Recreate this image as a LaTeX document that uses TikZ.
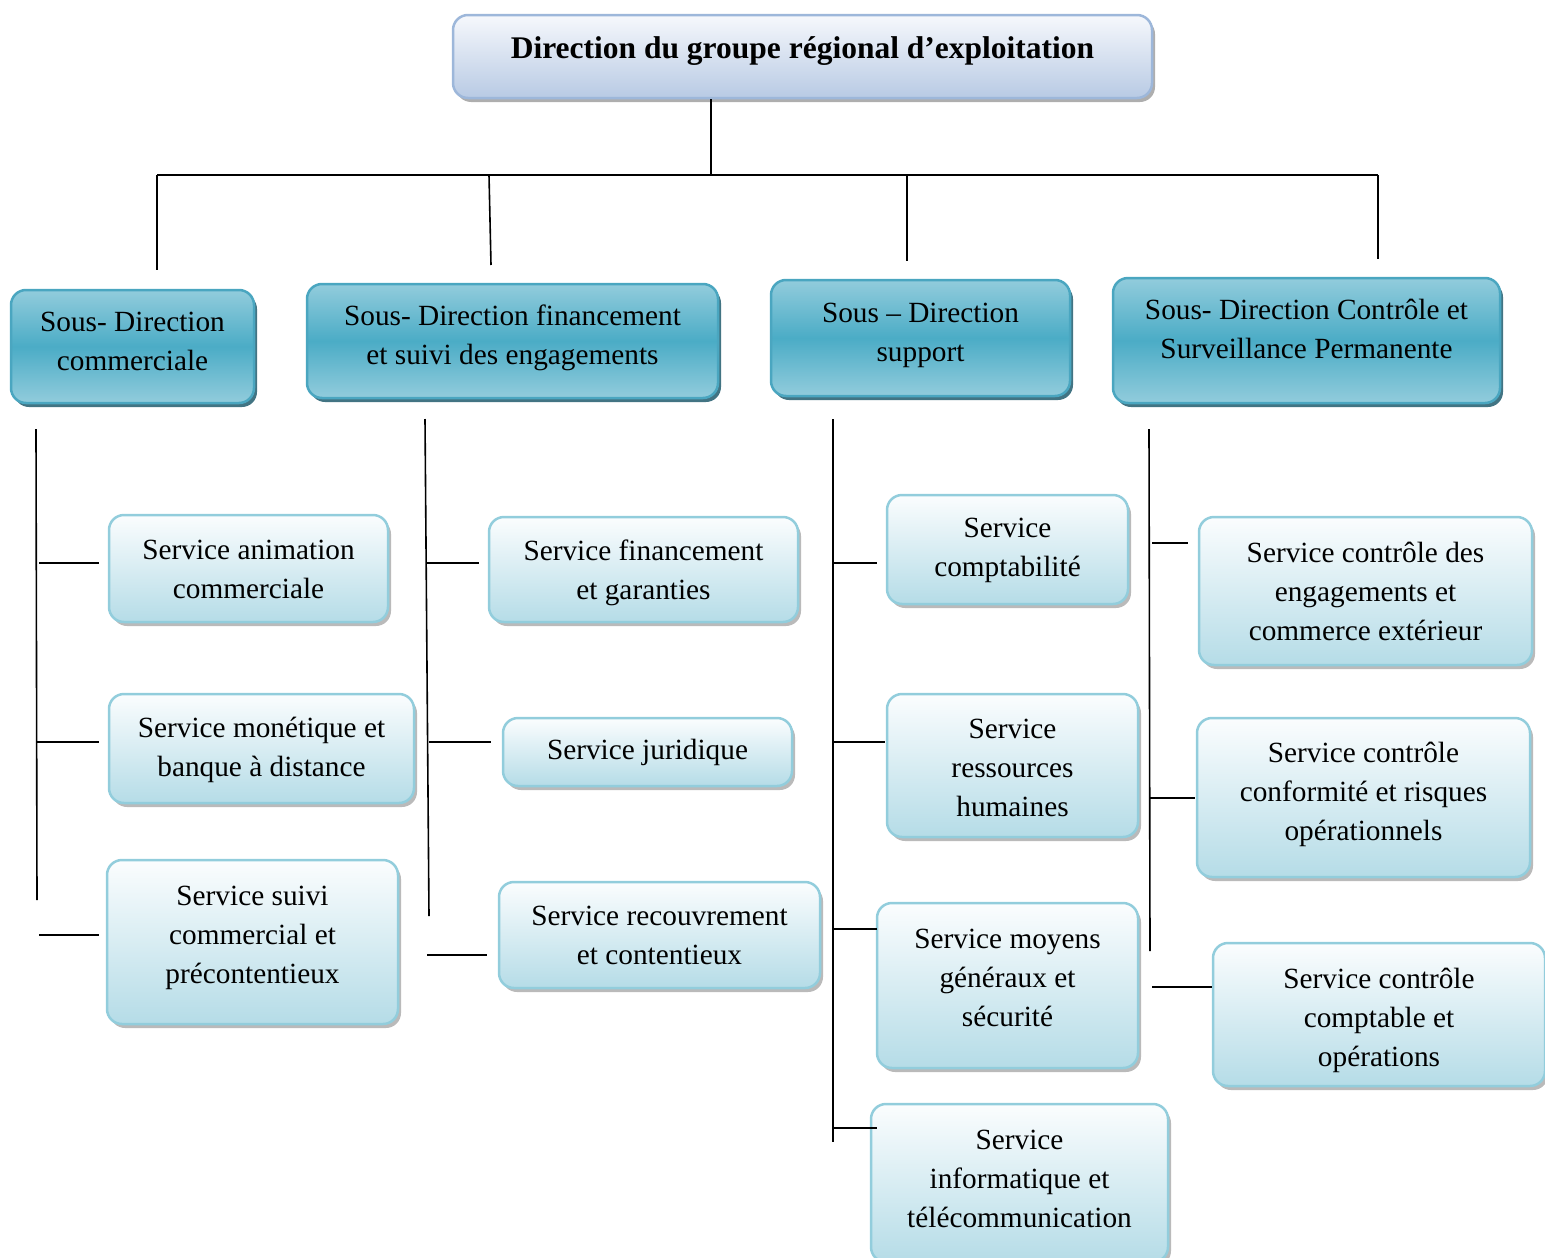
\documentclass[tikz,border=0pt]{standalone}
\usepackage{fontspec}
\setmainfont{Liberation Serif}
\usetikzlibrary{shadows}

\definecolor{topBorder}{HTML}{9DB7DA}
\definecolor{topTop}{HTML}{F6F8FC}
\definecolor{topBot}{HTML}{B8CAE4}
\definecolor{subBorder}{HTML}{4AA6C0}
\definecolor{subLight}{HTML}{92CCDC}
\definecolor{subDark}{HTML}{4BACC6}
\definecolor{subShadow}{HTML}{2E6576}
\definecolor{svcBorder}{HTML}{92CDDC}
\definecolor{svcTop}{HTML}{FBFDFE}
\definecolor{svcBot}{HTML}{B5DCE7}

\begin{document}
\begin{tikzpicture}[x=1pt,y=-1pt,
  box/.style={rounded corners=15pt, line width=2.5pt, inner sep=0pt},
  topbox/.style={box, draw=topBorder, top color=topTop, bottom color=topBot,
    drop shadow={shadow xshift=3pt, shadow yshift=-4pt, fill=black!45, opacity=0.7}},
  subbox/.style={box, draw=subBorder, top color=subLight, bottom color=subLight, middle color=subDark,
    drop shadow={shadow xshift=3pt, shadow yshift=-4pt, fill=subShadow, opacity=0.9}},
  svcbox/.style={box, draw=svcBorder, top color=svcTop, bottom color=svcBot,
    drop shadow={shadow xshift=3pt, shadow yshift=-4pt, fill=black!45, opacity=0.6}},
  txt/.style={align=center, inner sep=0pt, font=\fontsize{29.3}{39}\selectfont},
  wire/.style={line width=1.6pt, black}]
\useasboundingbox (0,0) rectangle (1545,1258);

% top management
\node[topbox, minimum width=699pt, minimum height=83pt] (title) at (802.5,56.5) {};
\node[txt, font=\fontsize{31.5}{39}\selectfont\bfseries] (title-t) at (802.5,51) {Direction du groupe régional d’exploitation};

% sub-directions
\node[subbox, minimum width=243pt, minimum height=113pt] (sd1) at (132.5,346.5) {};
\node[txt] (sd1-t) at (132.5,341.5) {Sous- Direction\\commerciale};
\node[subbox, minimum width=411pt, minimum height=114pt] (sd2) at (512.5,341) {};
\node[txt] (sd2-t) at (512.5,338) {Sous- Direction financement\\et suivi des engagements};
\node[subbox, minimum width=299pt, minimum height=116pt] (sd3) at (920.5,338) {};
\node[txt] (sd3-t) at (920.5,335) {Sous -- Direction\\support};
\node[subbox, minimum width=387pt, minimum height=125pt] (sd4) at (1306.5,340.5) {};
\node[txt] (sd4-t) at (1306.5,329) {Sous- Direction Contrôle et\\Surveillance Permanente};

% services
\node[svcbox, minimum width=279pt, minimum height=107pt] (s1a) at (248.5,568.5) {};
\node[txt] (s1a-t) at (248.5,569.5) {Service animation\\commerciale};
\node[svcbox, minimum width=305pt, minimum height=109pt] (s1b) at (261.5,748.5) {};
\node[txt] (s1b-t) at (261.5,750) {Service monétique et\\banque à distance};
\node[svcbox, minimum width=291pt, minimum height=164pt] (s1c) at (252.5,942) {};
\node[txt] (s1c-t) at (252.5,937.5) {Service suivi\\commercial et\\précontentieux};

\node[svcbox, minimum width=309pt, minimum height=105pt] (s2a) at (643.5,569.5) {};
\node[txt] (s2a-t) at (643.5,572.5) {Service financement\\et garanties};
\node[svcbox, minimum width=289pt, minimum height=68pt] (s2b) at (647.5,752) {};
\node[txt] (s2b-t) at (647.5,752) {Service juridique};
\node[svcbox, minimum width=321pt, minimum height=106pt] (s2c) at (659.5,935) {};
\node[txt] (s2c-t) at (659.5,935) {Service recouvrement\\et contentieux};

\node[svcbox, minimum width=241pt, minimum height=109pt] (s3a) at (1007.5,549.5) {};
\node[txt] (s3a-t) at (1007.5,550.5) {Service\\comptabilité};
\node[svcbox, minimum width=251pt, minimum height=143pt] (s3b) at (1012.5,765.5) {};
\node[txt] (s3b-t) at (1012.5,768) {Service\\ressources\\humaines};
\node[svcbox, minimum width=261pt, minimum height=165pt] (s3c) at (1007.5,985.5) {};
\node[txt] (s3c-t) at (1007.5,978) {Service moyens\\généraux et\\sécurité};
\node[svcbox, minimum width=297pt, minimum height=158pt] (s3d) at (1019.5,1183) {};
\node[txt] (s3d-t) at (1019.5,1179) {Service\\informatique et\\télécommunication};

\node[svcbox, minimum width=333pt, minimum height=148pt] (s4a) at (1365.5,591) {};
\node[txt] (s4a-t) at (1365.5,591) {Service contrôle des\\engagements et\\commerce extérieur};
\node[svcbox, minimum width=333pt, minimum height=159pt] (s4b) at (1363.5,797.5) {};
\node[txt] (s4b-t) at (1363.5,794) {Service contrôle\\conformité et risques\\opérationnels};
\node[svcbox, minimum width=332pt, minimum height=143pt] (s4c) at (1379,1014.5) {};
\node[txt] (s4c-t) at (1379,1020) {Service contrôle\\comptable et\\opérations};

% main distribution bar
\coordinate (bar-l) at (157,175);
\coordinate (bar-r) at (1378,175);
\coordinate (bar-t) at (711,175);
\draw[wire] (title.south -| bar-t) -- (bar-t);
\draw[wire] (bar-l) -- (bar-r);
\coordinate (d1) at (157,270);
\coordinate (d2a) at (489,175);
\coordinate (d2) at (491,265);
\coordinate (d3a) at (907,175);
\coordinate (d3) at (907,261);
\coordinate (d4) at (1378,259);
\draw[wire] (bar-l) -- (d1);
\draw[wire] (d2a) -- (d2);
\draw[wire] (d3a) -- (d3);
\draw[wire] (bar-r) -- (d4);

% column 1 trunk and branches
\coordinate (c1-top) at (36,429);
\coordinate (c1-bot) at (37,900);
\draw[wire] (c1-top) -- (c1-bot);
\coordinate (c1a) at (39,563);  \coordinate (c1a-e) at (99,563);
\coordinate (c1b) at (36,742);  \coordinate (c1b-e) at (99,742);
\coordinate (c1c) at (39,935);  \coordinate (c1c-e) at (99,935);
\draw[wire] (c1a) -- (c1a-e);
\draw[wire] (c1b) -- (c1b-e);
\draw[wire] (c1c) -- (c1c-e);

% column 2 trunk and branches
\coordinate (c2-top) at (425,419);
\coordinate (c2-bot) at (429,916);
\draw[wire] (c2-top) -- (c2-bot);
\coordinate (c2a) at (427,563);  \coordinate (c2a-e) at (479,563);
\coordinate (c2b) at (429,742);  \coordinate (c2b-e) at (491,742);
\coordinate (c2c) at (427,955);  \coordinate (c2c-e) at (487,955);
\draw[wire] (c2a) -- (c2a-e);
\draw[wire] (c2b) -- (c2b-e);
\draw[wire] (c2c) -- (c2c-e);

% column 3 trunk and branches
\coordinate (c3-top) at (833,419);
\coordinate (c3-bot) at (833,1142);
\draw[wire] (c3-top) -- (c3-bot);
\coordinate (c3a) at (833,563);  \coordinate (c3a-e) at (877,563);
\coordinate (c3b) at (833,742);  \coordinate (c3b-e) at (885,742);
\coordinate (c3c) at (833,929);  \coordinate (c3c-e) at (877,929);
\coordinate (c3d) at (833,1128); \coordinate (c3d-e) at (877,1128);
\draw[wire] (c3a) -- (c3a-e);
\draw[wire] (c3b) -- (c3b-e);
\draw[wire] (c3c) -- (c3c-e);
\draw[wire] (c3d) -- (c3d-e);

% column 4 trunk and branches
\coordinate (c4-top) at (1149,429);
\coordinate (c4-bot) at (1150,951);
\draw[wire] (c4-top) -- (c4-bot);
\coordinate (c4a) at (1152,543);  \coordinate (c4a-e) at (1188,543);
\coordinate (c4b) at (1149,798);  \coordinate (c4b-e) at (1195,798);
\coordinate (c4c) at (1152,987);  \coordinate (c4c-e) at (1212,987);
\draw[wire] (c4a) -- (c4a-e);
\draw[wire] (c4b) -- (c4b-e);
\draw[wire] (c4c) -- (c4c-e);
\end{tikzpicture}
\end{document}
